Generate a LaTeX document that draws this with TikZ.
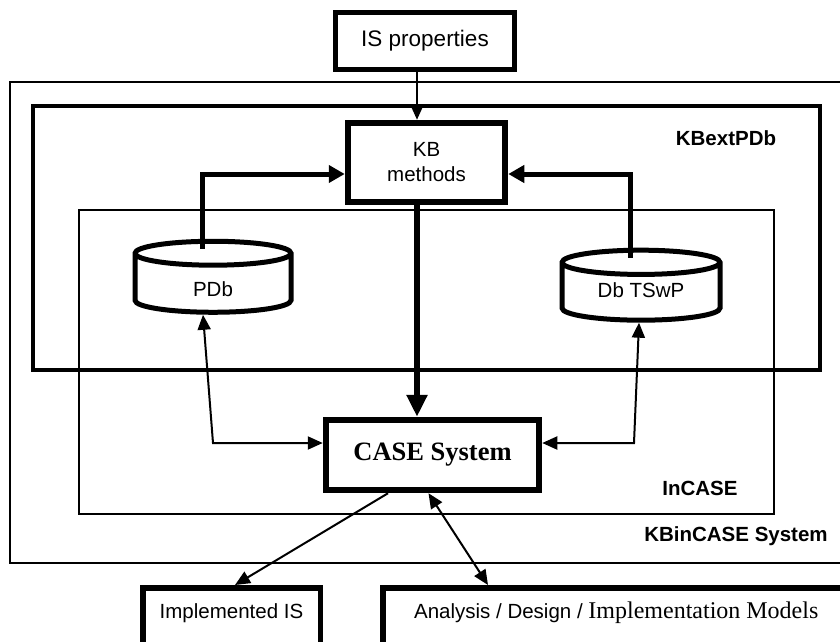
\documentclass[tikz,border=0pt]{standalone}
\usepackage{fontspec}
\setmainfont{Liberation Serif}
\setsansfont{Liberation Sans}
\usetikzlibrary{shapes.geometric,arrows.meta}
\tikzset{
  box/.style={draw, rectangle, line width=5.5pt, inner sep=3pt},
  bigbox/.style={box, line width=6.5pt},
  db/.style={draw, cylinder, shape border rotate=90, aspect=0.6, line width=5pt,
             minimum width=156pt, minimum height=71pt, inner sep=0pt},
  frame/.style={line width=1.6pt},
  lbl/.style={font=\sffamily\bfseries\fontsize{20.5}{24}\selectfont},
  thinarrow/.style={line width=2pt, -{Triangle[length=15pt,width=13pt]}},
  twoway/.style={line width=2pt, {Triangle[length=15pt,width=13pt]}-{Triangle[length=15pt,width=13pt]}},
  fatarrow/.style={line width=5pt, -{Triangle[length=16pt,width=17pt]}},
}
\newcommand{\dblabel}[2]{\raisebox{-#1}[0pt][0pt]{#2}}
\begin{document}
\begin{tikzpicture}[x=1pt, y=-1pt, font=\sffamily\fontsize{20.5}{25}\selectfont, line join=miter]
  \useasboundingbox (0,0) rectangle (840,642);
  \clip (0,0) rectangle (840,642);
  % frames
  \draw[frame] (10,82) rectangle (850,563);
  \draw[line width=3.2pt] (33,106) rectangle (820,370);
  \draw[frame] (79,210) rectangle (774,514);
  \node[lbl] (kbext) at (726,138) {KBextPDb};
  \node[lbl] (incase) at (700,488) {InCASE};
  \node[lbl] (kbincase) at (736,536) {KBinCASE System};
  % boxes
  \node[box, minimum width=179pt, minimum height=57pt, font=\sffamily\fontsize{22.5}{26}\selectfont] (isprop) at (425,41) {IS properties};
  \node[bigbox, minimum width=157pt, minimum height=79pt, align=center] (kbm) at (426.5,162.5) {KB\\methods};
  \node[bigbox, minimum width=213pt, minimum height=70pt,
        font=\rmfamily\bfseries\fontsize{26.5}{30}\selectfont] (case) at (432.5,455) {CASE System};
  \node[db] (pdb) at (213,284) {\dblabel{12pt}{PDb}};
  \node[db, aspect=0.28, minimum width=158pt, minimum height=70pt] (tswp) at (641,292.5) {\dblabel{4.5pt}{Db TSwP}};
  \node[box, anchor=north, minimum width=177.5pt, text height=28pt, text depth=40pt] (implis) at (231.5,585) {Implemented IS};
  \node[box, anchor=north west, minimum width=467pt, text height=28pt, text depth=40pt] (models) at (380,585)
       {Analysis / Design / {\rmfamily\fontsize{24}{28}\selectfont Implementation Models}};
  % connectors
  \coordinate (ax) at (417,0);
  \draw[thinarrow] (isprop.south -| ax) -- (kbm.north -| ax);
  \draw[fatarrow] ([xshift=-11pt,yshift=-10pt]pdb.top) |- ([yshift=-11.5pt]kbm.west);
  \draw[fatarrow] ([xshift=-11pt,yshift=-10pt]tswp.top) |- ([yshift=-11.5pt]kbm.east);
  \draw[line width=6.5pt, -{Triangle[length=22pt,width=20pt]}] (kbm.south -| ax) -- (case.north -| ax);
  \draw[twoway] ([xshift=-10pt]pdb.bottom) -- (213,443) -- ([yshift=12pt]case.west);
  \draw[twoway] ([xshift=-2pt]tswp.bottom) -- (634,443) -- ([yshift=12pt]case.east);
  \draw[thinarrow] ([xshift=-44.5pt]case.south) -- ([xshift=3.5pt]implis.north);
  \draw[twoway] ([xshift=-4pt]case.south) -- ([xshift=108pt]models.north west);
\end{tikzpicture}
\end{document}
